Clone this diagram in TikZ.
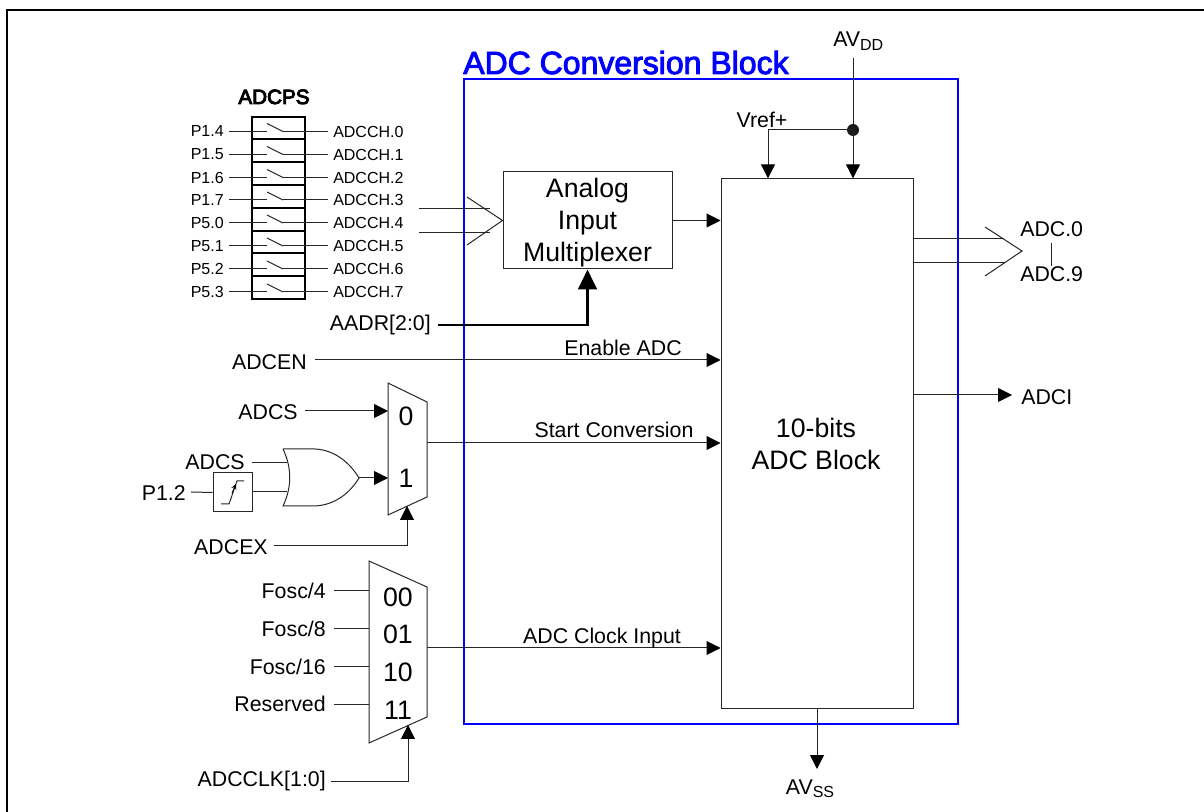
\documentclass[tikz,border=0pt]{standalone}
\usepackage{fontspec}
\setmainfont{Liberation Sans}
\newcommand{\heavy}[1]{\special{pdf:code q 2 Tr 0.7 w}#1\special{pdf:code Q}}
\usepackage{tikz}
\usetikzlibrary{arrows.meta,positioning,calc}
\definecolor{blockblue}{HTML}{0000FF}
\definecolor{wiregray}{HTML}{262626}
\newcommand{\swrow}[4]{%
  \node[small, anchor=east] (p#1) at (224,#2) {#3};
  \node[small, anchor=west] (ch#1) at (333,#2) {#4};
  \coordinate (sa#1) at (267,#2);
  \coordinate (sb#1) at (283,#2);
  \draw[wire] (p#1.east) ++(5,0) -- (sa#1);
  \draw[wire] (sa#1) ++(0,-8) -- (sb#1);
  \draw[wire] (sb#1) -- ($(ch#1.west)+(-5,0)$);
}
\begin{document}
\begin{tikzpicture}[x=0.75pt,y=-0.75pt,
  font=\fontsize{16pt}{18pt}\selectfont,
  wire/.style={draw=wiregray, line width=0.75pt},
  a/.style={wire, -{Triangle[length=10.5pt,width=10.5pt,color=black]}},
  abig/.style={draw=black, line width=2.2pt, -{Triangle[length=15pt,width=14pt]}},
  small/.style={font=\fontsize{12pt}{14pt}\selectfont, inner sep=0pt},
  lab/.style={inner sep=0pt},
  block/.style={draw=wiregray, line width=0.75pt, inner sep=0pt},
  blocktext/.style={align=center, inner sep=0pt, font=\fontsize{20pt}{24pt}\selectfont},
  sel/.style={inner sep=0pt, font=\fontsize{20pt}{22pt}\selectfont}]
\useasboundingbox (0,0) rectangle (1204,812);
\draw[black, line width=1.5pt] (7,812) -- (7,10) -- (1204,10);
% conversion block
\draw[blockblue, line width=1.6pt] (464,79) rectangle (958,724);
\node[inner sep=0pt, anchor=base west, text=blockblue,
  font=\fontsize{24pt}{26pt}\selectfont] (title) at (463,74) {\heavy{ADC Conversion Block}};
\node[block, minimum width=144pt, minimum height=397pt] (adc) at (817,443.5) {};
\node[blocktext] (adctext) at (816,443.5) {10-bits\\ADC Block};
\node[block, minimum width=126.75pt, minimum height=72.75pt] (amux) at (587.5,220.5) {};
\node[blocktext] (amuxtext) at (587.5,222.5) {Analog\\Input\\Multiplexer};
% channel switches
\node[inner sep=0pt, anchor=base, font=\fontsize{15.5pt}{17pt}\selectfont] (adcps) at (274,104) {\heavy{ADCPS}};
\draw[black, line width=1.5pt] (252,117) rectangle (305,299);
\draw[black, line width=1.5pt] (252,139.5) -- (305,139.5) (252,162.5) -- (305,162.5)
  (252,185) -- (305,185) (252,208) -- (305,208) (252,231) -- (305,231)
  (252,253.5) -- (305,253.5) (252,276) -- (305,276);
\swrow{0}{131.5}{P1.4}{ADCCH.0}
\swrow{1}{154.5}{P1.5}{ADCCH.1}
\swrow{2}{177.5}{P1.6}{ADCCH.2}
\swrow{3}{200}{P1.7}{ADCCH.3}
\swrow{4}{223}{P5.0}{ADCCH.4}
\swrow{5}{246}{P5.1}{ADCCH.5}
\swrow{6}{269}{P5.2}{ADCCH.6}
\swrow{7}{292}{P5.3}{ADCCH.7}
% bus into multiplexer
\coordinate (inA) at (419,209);
\coordinate (inB) at (419,233);
\coordinate (inAe) at (490,209);
\coordinate (inBe) at (490,233);
\draw[wire] (inA) -- (inAe);
\draw[wire] (inB) -- (inBe);
\draw[wire] (467,197) -- (amux.west) -- (467,245);
\draw[a] (amux.east) -- (adc.west |- amux.east);
% left control inputs
\node[lab, anchor=east] (aadr) at (431,325) {AADR[2:0]};
\draw[abig] (aadr.east) ++(7,0) -| (amux.south);
\node[lab, anchor=east] (adcen) at (307,362) {ADCEN};
\draw[a] (adcen.east) ++(8,-2) -- (adc.west |- 0,360);
\node[lab, anchor=base] (enable) at (623,356) {Enable ADC};
% start mux
\draw[wire] (388,383) -- (427,402) -- (427,497) -- (388,515) -- cycle;
\coordinate (smuxout) at (427,443);
\coordinate (smux0) at (388,411);
\coordinate (smux1) at (388,478);
\coordinate (smuxsel) at (407,506);
\node[sel] (s0) at (406,416) {0};
\node[sel] (s1) at (406,478) {1};
\node[lab, anchor=east] (adcs) at (298,412) {ADCS};
\draw[a] (adcs.east) ++(7,-1) -- (smux0);
\node[lab, anchor=east] (adcsb) at (245,462) {ADCS};
\node[lab, anchor=east] (p12) at (186,493) {P1.2};
\node[draw=wiregray, line width=0.75pt, minimum size=29.25pt, inner sep=0pt] (edge) at (232.5,492.5) {};
\draw[wire] (221,504) -- (229,504) -- (237,481) -- (244,481);
\draw[draw=black, line width=0.6pt, -{Stealth[length=4pt,width=4pt]}] (232,493) -- (236,484);
\draw[wire] (p12.east) ++(5,-1) -- (edge.west);
% or gate
\draw[wire] (283,449) -- (315,449) .. controls (335,450) and (350,463) .. (359,478)
  .. controls (350,493) and (335,505) .. (315,506) -- (283,506)
  .. controls (292,487) and (292,468) .. (283,449);
\coordinate (orA) at (287,463);
\coordinate (orB) at (287,492);
\coordinate (orout) at (359,478);
\draw[wire] (adcsb.east) ++(7,1) -- (orA);
\draw[wire] (edge.east) |- (orB);
\draw[a] (orout) -- (smux1);
\node[lab, anchor=east] (adcex) at (268,547) {ADCEX};
\draw[a] (adcex.east) ++(6,-1) -| (smuxsel);
\draw[a] (smuxout) -- (adc.west |- smuxout);
\node[lab, anchor=base] (start) at (614,438) {Start Conversion};
% clock mux
\draw[wire] (369,561) -- (427,587) -- (427,717) -- (369,743) -- cycle;
\coordinate (cmuxout) at (427,648);
\coordinate (cmuxsel) at (408,725);
\node[sel] (c0) at (398,597) {00};
\node[sel] (c1) at (398,634) {01};
\node[sel] (c2) at (398,672) {10};
\node[sel] (c3) at (398,710) {11};
\node[lab, anchor=east] (f4) at (326,591) {Fosc/4};
\node[lab, anchor=east] (f8) at (326,629) {Fosc/8};
\node[lab, anchor=east] (f16) at (326,667) {Fosc/16};
\node[lab, anchor=east] (res) at (326,704) {Reserved};
\draw[wire] (f4.east) ++(8,0) -- (369,591);
\draw[wire] (f8.east) ++(8,0) -- (369,629);
\draw[wire] (f16.east) ++(8,0) -- (369,667);
\draw[wire] (res.east) ++(8,1) -- (369,705);
\node[lab, anchor=east] (adcclk) at (326,781) {ADCCLK[1:0]};
\draw[a] (adcclk.east) ++(5,0) -| (cmuxsel);
\draw[a] (cmuxout) -- (adc.west |- cmuxout);
\node[lab, anchor=base] (clkin) at (602,644) {ADC Clock Input};
% supplies
\node[lab, anchor=base west] (avdd) at (833,47) {AV\raisebox{-2.5pt}{\fontsize{12pt}{13pt}\selectfont DD}};
\coordinate (vdot) at (853,130);
\coordinate (vtop) at (853,58);
\draw[wire] (vtop) -- (vdot);
\fill[black!90] (vdot) circle[radius=6];
\draw[a] (vdot) -- (adc.north -| vdot);
\draw[a] (vdot) -| (adc.north -| 768,0);
\node[lab, anchor=base] (vref) at (762,128) {Vref+};
\coordinate (ssb) at (817,708);
\node[lab, anchor=base] (avss) at (810,794) {AV\raisebox{-2.5pt}{\fontsize{12pt}{13pt}\selectfont SS}};
\draw[a] (ssb) -- (817,769);
% outputs
\draw[wire] (adc.east |- 0,239) -- (1004,239);
\draw[wire] (adc.east |- 0,263) -- (1004,263);
\draw[wire] (985,227) -- (1022,251) -- (985,276);
\node[lab, anchor=west] (adc0) at (1020,229) {ADC.0};
\node[lab, anchor=west] (adc9) at (1020,274) {ADC.9};
\draw[wire] (adc0.south) ++(0,6) -- (adc9.north);
\node[lab, anchor=west] (adci) at (1021,397) {ADCI};
\draw[a] (adc.east |- 0,395) -- ($(adci.west)+(-9,-2)$);
\end{tikzpicture}
\end{document}
